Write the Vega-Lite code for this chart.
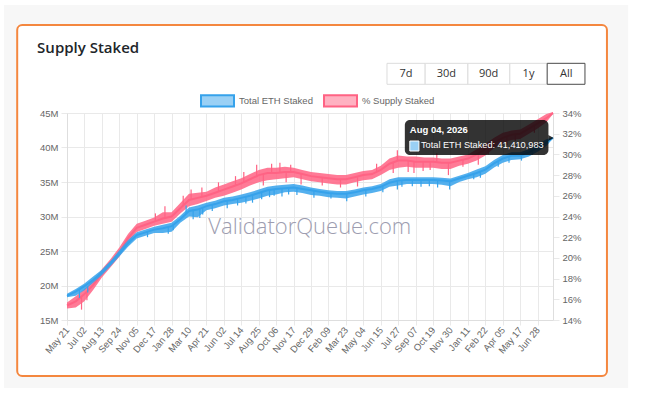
{
  "$schema": "https://vega.github.io/schema/vega-lite/v6.json",
  "width": 486,
  "height": 207,
  "autosize": {"type": "none"},
  "padding": {"left": 67, "top": 113, "right": 100, "bottom": 81},
  "background": "#ffffff",
  "datasets": {
    "series": [
      {"d": "2023-05-21T00:00", "eth": 18.5, "ethLo": 18.3, "ethHi": 18.8, "pct": 15.4, "pctLo": 15.1, "pctHi": 15.7},
      {"d": "2023-06-11T00:00", "eth": 19.1, "ethLo": 18.5, "ethHi": 19.5, "pct": 15.8, "pctLo": 15.2, "pctHi": 16.3},
      {"d": "2023-07-02T00:00", "eth": 19.9, "ethLo": 19.3, "ethHi": 20.3, "pct": 16.5, "pctLo": 15.8, "pctHi": 17.0},
      {"d": "2023-07-23T00:00", "eth": 20.8, "ethLo": 20.4, "ethHi": 21.3, "pct": 17.4, "pctLo": 16.9, "pctHi": 17.8},
      {"d": "2023-08-13T00:00", "eth": 21.9, "ethLo": 21.5, "ethHi": 22.3, "pct": 18.5, "pctLo": 18.1, "pctHi": 18.9},
      {"d": "2023-09-03T00:00", "eth": 23.2, "ethLo": 22.8, "ethHi": 23.6, "pct": 19.5, "pctLo": 19.1, "pctHi": 19.9},
      {"d": "2023-09-24T00:00", "eth": 24.6, "ethLo": 24.2, "ethHi": 25.1, "pct": 20.5, "pctLo": 20.1, "pctHi": 21.0},
      {"d": "2023-10-15T00:00", "eth": 26.1, "ethLo": 25.6, "ethHi": 26.6, "pct": 21.9, "pctLo": 21.4, "pctHi": 22.3},
      {"d": "2023-11-05T00:00", "eth": 27.3, "ethLo": 26.8, "ethHi": 27.7, "pct": 22.9, "pctLo": 22.5, "pctHi": 23.3},
      {"d": "2023-11-26T00:00", "eth": 27.7, "ethLo": 27.2, "ethHi": 28.1, "pct": 23.2, "pctLo": 22.8, "pctHi": 23.6},
      {"d": "2023-12-17T00:00", "eth": 28.1, "ethLo": 27.6, "ethHi": 28.5, "pct": 23.5, "pctLo": 23.1, "pctHi": 23.9},
      {"d": "2024-01-07T00:00", "eth": 28.3, "ethLo": 27.6, "ethHi": 28.8, "pct": 23.8, "pctLo": 23.3, "pctHi": 24.4},
      {"d": "2024-01-28T00:00", "eth": 28.6, "ethLo": 27.8, "ethHi": 29.1, "pct": 24.0, "pctLo": 23.5, "pctHi": 24.4},
      {"d": "2024-02-18T00:00", "eth": 29.6, "ethLo": 29.1, "ethHi": 30.1, "pct": 24.8, "pctLo": 24.3, "pctHi": 25.3},
      {"d": "2024-03-10T00:00", "eth": 30.8, "ethLo": 30.0, "ethHi": 31.3, "pct": 25.6, "pctLo": 25.0, "pctHi": 26.2},
      {"d": "2024-03-31T00:00", "eth": 31.0, "ethLo": 29.9, "ethHi": 31.6, "pct": 25.8, "pctLo": 25.2, "pctHi": 26.3},
      {"d": "2024-04-21T00:00", "eth": 31.5, "ethLo": 30.9, "ethHi": 32.0, "pct": 26.0, "pctLo": 25.5, "pctHi": 26.4},
      {"d": "2024-05-12T00:00", "eth": 31.8, "ethLo": 31.2, "ethHi": 32.3, "pct": 26.3, "pctLo": 25.8, "pctHi": 26.8},
      {"d": "2024-06-02T00:00", "eth": 32.2, "ethLo": 31.6, "ethHi": 32.7, "pct": 26.6, "pctLo": 26.0, "pctHi": 27.1},
      {"d": "2024-06-23T00:00", "eth": 32.4, "ethLo": 31.8, "ethHi": 32.9, "pct": 26.9, "pctLo": 26.3, "pctHi": 27.4},
      {"d": "2024-07-14T00:00", "eth": 32.7, "ethLo": 32.0, "ethHi": 33.2, "pct": 27.2, "pctLo": 26.6, "pctHi": 27.7},
      {"d": "2024-08-04T00:00", "eth": 33.0, "ethLo": 32.3, "ethHi": 33.5, "pct": 27.6, "pctLo": 27.0, "pctHi": 28.1},
      {"d": "2024-08-25T00:00", "eth": 33.4, "ethLo": 32.6, "ethHi": 33.9, "pct": 28.0, "pctLo": 27.3, "pctHi": 28.5},
      {"d": "2024-09-15T00:00", "eth": 33.8, "ethLo": 33.0, "ethHi": 34.3, "pct": 28.2, "pctLo": 27.5, "pctHi": 28.7},
      {"d": "2024-10-06T00:00", "eth": 34.0, "ethLo": 33.2, "ethHi": 34.5, "pct": 28.2, "pctLo": 27.6, "pctHi": 28.7},
      {"d": "2024-10-27T00:00", "eth": 34.1, "ethLo": 33.5, "ethHi": 34.6, "pct": 28.3, "pctLo": 27.7, "pctHi": 28.8},
      {"d": "2024-11-17T00:00", "eth": 34.2, "ethLo": 33.6, "ethHi": 34.7, "pct": 28.3, "pctLo": 27.8, "pctHi": 28.7},
      {"d": "2024-12-08T00:00", "eth": 34.0, "ethLo": 33.4, "ethHi": 34.5, "pct": 28.1, "pctLo": 27.6, "pctHi": 28.5},
      {"d": "2024-12-29T00:00", "eth": 33.8, "ethLo": 33.1, "ethHi": 34.2, "pct": 27.9, "pctLo": 27.4, "pctHi": 28.3},
      {"d": "2025-01-19T00:00", "eth": 33.6, "ethLo": 33.0, "ethHi": 34.0, "pct": 27.8, "pctLo": 27.3, "pctHi": 28.2},
      {"d": "2025-02-09T00:00", "eth": 33.4, "ethLo": 32.8, "ethHi": 33.8, "pct": 27.7, "pctLo": 27.2, "pctHi": 28.1},
      {"d": "2025-03-02T00:00", "eth": 33.3, "ethLo": 32.7, "ethHi": 33.7, "pct": 27.6, "pctLo": 27.1, "pctHi": 28.0},
      {"d": "2025-03-23T00:00", "eth": 33.3, "ethLo": 32.6, "ethHi": 33.7, "pct": 27.6, "pctLo": 27.1, "pctHi": 28.0},
      {"d": "2025-04-13T00:00", "eth": 33.5, "ethLo": 32.9, "ethHi": 33.9, "pct": 27.8, "pctLo": 27.3, "pctHi": 28.2},
      {"d": "2025-05-04T00:00", "eth": 33.8, "ethLo": 33.2, "ethHi": 34.2, "pct": 28.0, "pctLo": 27.5, "pctHi": 28.4},
      {"d": "2025-05-25T00:00", "eth": 34.0, "ethLo": 33.4, "ethHi": 34.4, "pct": 28.1, "pctLo": 27.6, "pctHi": 28.5},
      {"d": "2025-06-15T00:00", "eth": 34.3, "ethLo": 33.7, "ethHi": 34.7, "pct": 28.5, "pctLo": 28.0, "pctHi": 28.9},
      {"d": "2025-07-06T00:00", "eth": 34.9, "ethLo": 34.3, "ethHi": 35.4, "pct": 29.1, "pctLo": 28.5, "pctHi": 29.6},
      {"d": "2025-07-27T00:00", "eth": 35.2, "ethLo": 34.5, "ethHi": 35.7, "pct": 29.4, "pctLo": 28.7, "pctHi": 29.9},
      {"d": "2025-08-17T00:00", "eth": 35.3, "ethLo": 34.7, "ethHi": 35.7, "pct": 29.4, "pctLo": 28.8, "pctHi": 29.8},
      {"d": "2025-09-07T00:00", "eth": 35.3, "ethLo": 34.7, "ethHi": 35.7, "pct": 29.3, "pctLo": 28.7, "pctHi": 29.8},
      {"d": "2025-09-28T00:00", "eth": 35.3, "ethLo": 34.7, "ethHi": 35.7, "pct": 29.3, "pctLo": 28.7, "pctHi": 29.7},
      {"d": "2025-10-19T00:00", "eth": 35.3, "ethLo": 34.7, "ethHi": 35.7, "pct": 29.3, "pctLo": 28.7, "pctHi": 29.7},
      {"d": "2025-11-09T00:00", "eth": 35.2, "ethLo": 34.6, "ethHi": 35.6, "pct": 29.2, "pctLo": 28.6, "pctHi": 29.6},
      {"d": "2025-11-30T00:00", "eth": 35.1, "ethLo": 34.4, "ethHi": 35.5, "pct": 29.2, "pctLo": 28.6, "pctHi": 29.6},
      {"d": "2025-12-21T00:00", "eth": 35.5, "ethLo": 35.0, "ethHi": 35.9, "pct": 29.4, "pctLo": 28.9, "pctHi": 29.8},
      {"d": "2026-01-11T00:00", "eth": 35.9, "ethLo": 35.4, "ethHi": 36.3, "pct": 29.6, "pctLo": 29.1, "pctHi": 30.0},
      {"d": "2026-02-01T00:00", "eth": 36.3, "ethLo": 35.7, "ethHi": 36.8, "pct": 30.0, "pctLo": 29.4, "pctHi": 30.5},
      {"d": "2026-02-22T00:00", "eth": 36.8, "ethLo": 36.2, "ethHi": 37.3, "pct": 30.5, "pctLo": 29.9, "pctHi": 31.0},
      {"d": "2026-03-15T00:00", "eth": 37.7, "ethLo": 37.1, "ethHi": 38.2, "pct": 31.1, "pctLo": 30.6, "pctHi": 31.6},
      {"d": "2026-04-05T00:00", "eth": 38.4, "ethLo": 37.8, "ethHi": 38.9, "pct": 31.6, "pctLo": 31.1, "pctHi": 32.1},
      {"d": "2026-04-26T00:00", "eth": 38.8, "ethLo": 38.2, "ethHi": 39.3, "pct": 31.9, "pctLo": 31.4, "pctHi": 32.3},
      {"d": "2026-05-17T00:00", "eth": 38.8, "ethLo": 38.3, "ethHi": 39.3, "pct": 32.0, "pctLo": 31.5, "pctHi": 32.4},
      {"d": "2026-06-07T00:00", "eth": 39.3, "ethLo": 38.7, "ethHi": 39.8, "pct": 32.5, "pctLo": 32.0, "pctHi": 32.9},
      {"d": "2026-06-28T00:00", "eth": 40.0, "ethLo": 39.4, "ethHi": 40.5, "pct": 33.0, "pctLo": 32.5, "pctHi": 33.4},
      {"d": "2026-07-19T00:00", "eth": 40.7, "ethLo": 40.2, "ethHi": 41.2, "pct": 33.5, "pctLo": 33.1, "pctHi": 33.9},
      {"d": "2026-08-04T00:00", "eth": 41.41, "ethLo": 41.3, "ethHi": 41.5, "pct": 34.0, "pctLo": 33.9, "pctHi": 34.1}
    ],
    "ethSpikes": [
      {"d": "2023-06-20T00:00", "from": 19.4, "to": 18.2},
      {"d": "2023-07-10T00:00", "from": 19.9, "to": 19.0},
      {"d": "2023-12-01T00:00", "from": 27.8, "to": 27.0},
      {"d": "2024-01-20T00:00", "from": 28.5, "to": 27.5},
      {"d": "2024-02-01T00:00", "from": 28.8, "to": 28.0},
      {"d": "2024-03-03T00:00", "from": 30.4, "to": 31.6},
      {"d": "2024-03-20T00:00", "from": 31.0, "to": 29.6},
      {"d": "2024-04-05T00:00", "from": 31.2, "to": 29.8},
      {"d": "2024-04-12T00:00", "from": 31.3, "to": 30.3},
      {"d": "2024-05-05T00:00", "from": 31.7, "to": 30.8},
      {"d": "2024-06-10T00:00", "from": 32.3, "to": 31.2},
      {"d": "2024-07-05T00:00", "from": 32.6, "to": 31.6},
      {"d": "2024-07-25T00:00", "from": 32.9, "to": 31.9},
      {"d": "2024-08-10T00:00", "from": 33.0, "to": 32.0},
      {"d": "2024-09-01T00:00", "from": 33.5, "to": 32.5},
      {"d": "2024-09-20T00:00", "from": 33.8, "to": 32.8},
      {"d": "2024-10-01T00:00", "from": 33.9, "to": 33.0},
      {"d": "2024-10-20T00:00", "from": 34.0, "to": 32.9},
      {"d": "2024-11-05T00:00", "from": 34.1, "to": 33.2},
      {"d": "2024-11-25T00:00", "from": 34.1, "to": 33.1},
      {"d": "2025-01-05T00:00", "from": 33.7, "to": 32.7},
      {"d": "2025-02-15T00:00", "from": 33.4, "to": 32.6},
      {"d": "2025-03-25T00:00", "from": 33.3, "to": 32.2},
      {"d": "2025-05-10T00:00", "from": 33.8, "to": 32.9},
      {"d": "2025-06-20T00:00", "from": 34.5, "to": 33.5},
      {"d": "2025-07-25T00:00", "from": 35.2, "to": 33.9},
      {"d": "2025-08-05T00:00", "from": 35.2, "to": 34.3},
      {"d": "2025-08-30T00:00", "from": 35.3, "to": 34.4},
      {"d": "2025-09-20T00:00", "from": 35.3, "to": 34.3},
      {"d": "2025-10-10T00:00", "from": 35.3, "to": 34.4},
      {"d": "2025-10-30T00:00", "from": 35.2, "to": 34.2},
      {"d": "2025-11-28T00:00", "from": 35.1, "to": 33.9},
      {"d": "2026-01-25T00:00", "from": 36.2, "to": 35.4},
      {"d": "2026-02-10T00:00", "from": 36.5, "to": 35.6},
      {"d": "2026-03-25T00:00", "from": 38.0, "to": 37.2},
      {"d": "2026-04-20T00:00", "from": 38.7, "to": 37.8},
      {"d": "2026-05-20T00:00", "from": 38.9, "to": 38.1},
      {"d": "2026-06-15T00:00", "from": 39.6, "to": 38.9}
    ],
    "pctSpikes": [
      {"d": "2023-06-25T00:00", "from": 16.2, "to": 15.0},
      {"d": "2023-07-08T00:00", "from": 16.8, "to": 15.9},
      {"d": "2023-12-20T00:00", "from": 23.5, "to": 24.3},
      {"d": "2024-01-12T00:00", "from": 23.8, "to": 25.0},
      {"d": "2024-02-25T00:00", "from": 25.0, "to": 26.0},
      {"d": "2024-03-15T00:00", "from": 25.6, "to": 26.6},
      {"d": "2024-04-10T00:00", "from": 25.9, "to": 26.8},
      {"d": "2024-05-20T00:00", "from": 26.4, "to": 27.3},
      {"d": "2024-06-30T00:00", "from": 27.0, "to": 27.9},
      {"d": "2024-07-20T00:00", "from": 27.3, "to": 28.3},
      {"d": "2024-08-20T00:00", "from": 27.8, "to": 29.0},
      {"d": "2024-09-05T00:00", "from": 28.1, "to": 27.0},
      {"d": "2024-09-25T00:00", "from": 28.2, "to": 29.1},
      {"d": "2024-10-15T00:00", "from": 28.2, "to": 29.2},
      {"d": "2024-10-30T00:00", "from": 28.3, "to": 27.3},
      {"d": "2024-11-10T00:00", "from": 28.3, "to": 29.0},
      {"d": "2024-12-05T00:00", "from": 28.1, "to": 27.1},
      {"d": "2025-01-25T00:00", "from": 27.8, "to": 27.0},
      {"d": "2025-03-10T00:00", "from": 27.6, "to": 26.8},
      {"d": "2025-04-20T00:00", "from": 27.8, "to": 26.9},
      {"d": "2025-06-05T00:00", "from": 28.3, "to": 29.1},
      {"d": "2025-07-15T00:00", "from": 29.2, "to": 28.2},
      {"d": "2025-07-25T00:00", "from": 29.4, "to": 30.4},
      {"d": "2025-08-20T00:00", "from": 29.4, "to": 28.3},
      {"d": "2025-09-03T00:00", "from": 29.3, "to": 28.2},
      {"d": "2025-09-25T00:00", "from": 29.3, "to": 28.4},
      {"d": "2025-10-12T00:00", "from": 29.3, "to": 28.5},
      {"d": "2025-10-28T00:00", "from": 29.3, "to": 30.1},
      {"d": "2025-11-25T00:00", "from": 29.2, "to": 28.0},
      {"d": "2025-12-30T00:00", "from": 29.5, "to": 28.8},
      {"d": "2026-02-05T00:00", "from": 30.0, "to": 29.0},
      {"d": "2026-03-01T00:00", "from": 30.8, "to": 30.0},
      {"d": "2026-04-15T00:00", "from": 31.7, "to": 30.9},
      {"d": "2026-05-05T00:00", "from": 32.0, "to": 31.3},
      {"d": "2026-06-20T00:00", "from": 32.8, "to": 32.1}
    ],
    "strips": [
      {"d": "2022-12-20T00:00", "d2": "2027-02-01T00:00", "v": 57.75, "v2": 60.65},
      {"d": "2022-12-20T00:00", "d2": "2027-02-01T00:00", "v": 5.14, "v2": 6.88},
      {"d": "2022-12-20T00:00", "d2": "2023-01-21T00:00", "v": 6.88, "v2": 57.75},
      {"d": "2026-12-12T00:00", "d2": "2027-02-01T00:00", "v": 6.88, "v2": 57.75}
    ],
    "card": [
      {"d": "2023-01-21T00:00", "d2": "2026-12-12T00:00", "v": 6.88, "v2": 57.75}
    ],
    "heading": [
      {"d": "2023-03-10T00:00", "v": 53.7, "text": "Supply Staked"}
    ],
    "buttons": [
      {"label": "7d", "d": "2025-06-30T00:00", "d2": "2025-09-30T00:00", "v": 49.16, "v2": 52.2, "active": false},
      {"label": "30d", "d": "2025-09-30T00:00", "d2": "2026-01-11T00:00", "v": 49.16, "v2": 52.2, "active": false},
      {"label": "90d", "d": "2026-01-11T00:00", "d2": "2026-04-22T00:00", "v": 49.16, "v2": 52.2, "active": false},
      {"label": "1y", "d": "2026-04-22T00:00", "d2": "2026-07-21T00:00", "v": 49.16, "v2": 52.2, "active": false},
      {"label": "All", "d": "2026-07-21T00:00", "d2": "2026-10-20T00:00", "v": 49.16, "v2": 52.2, "active": true}
    ],
    "buttonLabels": [
      {"label": "7d", "d": "2025-08-15T00:00", "v": 50.68},
      {"label": "30d", "d": "2025-11-20T00:00", "v": 50.68},
      {"label": "90d", "d": "2026-03-02T00:00", "v": 50.68},
      {"label": "1y", "d": "2026-06-06T00:00", "v": 50.68},
      {"label": "All", "d": "2026-09-05T00:00", "v": 50.68}
    ],
    "watermark": [
      {"d": "2024-12-26T00:00", "v": 28.48, "text": "ValidatorQueue.com"}
    ],
    "tipBox": [
      {"d": "2025-08-12T00:00", "d2": "2026-07-24T00:00", "v": 38.91, "v2": 43.99}
    ],
    "tipCaret": [
      {"d": "2026-07-30T00:00", "v": 41.38}
    ],
    "tipSwatch": [
      {"d": "2025-08-24T00:00", "d2": "2025-09-15T00:00", "v": 39.49, "v2": 40.94}
    ],
    "tipText": [
      {"role": "title", "d": "2025-08-24T00:00", "v": 42.1, "text": "Aug 04, 2026"},
      {"role": "body", "d": "2025-09-20T00:00", "v": 39.88, "text": "Total ETH Staked: 41,410,983"}
    ]
  },
  "encoding": {
    "x": {
      "field": "d",
      "type": "temporal",
      "scale": {
        "domain": [{"year": 2023, "month": 5, "date": 21}, {"year": 2026, "month": 8, "date": 4}],
        "nice": false
      },
      "axis": {
        "title": null,
        "values": [
          {"year": 2023, "month": 5, "date": 21}, {"year": 2023, "month": 7, "date": 2},
          {"year": 2023, "month": 8, "date": 13}, {"year": 2023, "month": 9, "date": 24},
          {"year": 2023, "month": 11, "date": 5}, {"year": 2023, "month": 12, "date": 17},
          {"year": 2024, "month": 1, "date": 28}, {"year": 2024, "month": 3, "date": 10},
          {"year": 2024, "month": 4, "date": 21}, {"year": 2024, "month": 6, "date": 2},
          {"year": 2024, "month": 7, "date": 14}, {"year": 2024, "month": 8, "date": 25},
          {"year": 2024, "month": 10, "date": 6}, {"year": 2024, "month": 11, "date": 17},
          {"year": 2024, "month": 12, "date": 29}, {"year": 2025, "month": 2, "date": 9},
          {"year": 2025, "month": 3, "date": 23}, {"year": 2025, "month": 5, "date": 4},
          {"year": 2025, "month": 6, "date": 15}, {"year": 2025, "month": 7, "date": 27},
          {"year": 2025, "month": 9, "date": 7}, {"year": 2025, "month": 10, "date": 19},
          {"year": 2025, "month": 11, "date": 30}, {"year": 2026, "month": 1, "date": 11},
          {"year": 2026, "month": 2, "date": 22}, {"year": 2026, "month": 4, "date": 5},
          {"year": 2026, "month": 5, "date": 17}, {"year": 2026, "month": 6, "date": 28}
        ],
        "format": "%b %d",
        "labelAngle": -50,
        "labelOverlap": false,
        "labelFlush": false,
        "labelFont": "Liberation Sans",
        "labelFontSize": 9.5,
        "labelColor": "#666666",
        "labelPadding": 3,
        "grid": true,
        "gridColor": "#e9e9e9",
        "domainColor": "#dedede",
        "tickColor": "#e9e9e9",
        "tickSize": 5
      }
    }
  },
  "layer": [
    {
      "data": {"name": "strips"},
      "mark": {"type": "rect", "color": "#f7f7f7", "clip": false},
      "encoding": {
        "x2": {"field": "d2"},
        "y": {"field": "v", "type": "quantitative", "scale": {"domain": [15, 45], "nice": false, "zero": false}, "axis": null},
        "y2": {"field": "v2"}
      }
    },
    {
      "data": {"name": "card"},
      "mark": {"type": "rect", "fillOpacity": 0, "stroke": "#f4873f", "strokeWidth": 2, "cornerRadius": 5, "clip": false},
      "encoding": {
        "x2": {"field": "d2"},
        "y": {"field": "v", "type": "quantitative", "scale": {"domain": [15, 45], "nice": false, "zero": false}, "axis": null},
        "y2": {"field": "v2"}
      }
    },
    {
      "data": {"name": "heading"},
      "mark": {"type": "text", "font": "Open Sans", "fontSize": 15, "fontWeight": 600, "color": "#212529", "align": "left", "baseline": "alphabetic", "clip": false},
      "encoding": {
        "y": {"field": "v", "type": "quantitative", "scale": {"domain": [15, 45], "nice": false, "zero": false}, "axis": null},
        "text": {"field": "text"}
      }
    },
    {
      "data": {"name": "buttons"},
      "mark": {"type": "rect", "fill": "#ffffff", "strokeWidth": 1, "clip": false},
      "encoding": {
        "x2": {"field": "d2"},
        "y": {"field": "v", "type": "quantitative", "scale": {"domain": [15, 45], "nice": false, "zero": false}, "axis": null},
        "y2": {"field": "v2"},
        "stroke": {"condition": {"test": "datum.active", "value": "#4a4a4a"}, "value": "#dcdcdc"}
      }
    },
    {
      "data": {"name": "buttonLabels"},
      "mark": {"type": "text", "font": "Open Sans", "fontSize": 11, "color": "#333333", "baseline": "middle", "clip": false},
      "encoding": {
        "y": {"field": "v", "type": "quantitative", "scale": {"domain": [15, 45], "nice": false, "zero": false}, "axis": null},
        "text": {"field": "label"}
      }
    },
    {
      "data": {"name": "watermark"},
      "mark": {"type": "text", "font": "Open Sans", "fontSize": 22, "fontWeight": 300, "color": "#9d9db0", "baseline": "middle"},
      "encoding": {
        "y": {"field": "v", "type": "quantitative", "scale": {"domain": [15, 45], "nice": false, "zero": false}, "axis": null},
        "text": {"field": "text"}
      }
    },
    {
      "data": {"name": "series"},
      "mark": {"type": "area", "color": "#ff6384", "opacity": 0.85},
      "encoding": {
        "y": {"field": "pctLo", "type": "quantitative", "scale": {"domain": [14, 34], "nice": false, "zero": false}, "axis": null},
        "y2": {"field": "pctHi"}
      }
    },
    {
      "data": {"name": "pctSpikes"},
      "mark": {"type": "rule", "color": "#ff6384", "strokeWidth": 1.2},
      "encoding": {
        "y": {"field": "from", "type": "quantitative", "scale": {"domain": [14, 34], "nice": false, "zero": false}, "axis": null},
        "y2": {"field": "to"}
      }
    },
    {
      "data": {"name": "series"},
      "mark": {"type": "line", "strokeWidth": 2},
      "encoding": {
        "y": {
          "field": "pct",
          "type": "quantitative",
          "scale": {"domain": [14, 34], "nice": false, "zero": false},
          "axis": {
            "orient": "right",
            "title": null,
            "values": [14, 16, 18, 20, 22, 24, 26, 28, 30, 32, 34],
            "labelExpr": "datum.value + '%'",
            "grid": false,
            "labelFont": "Liberation Sans",
            "labelFontSize": 9.5,
            "labelColor": "#666666",
            "labelPadding": 3,
            "domainColor": "#dedede",
            "tickColor": "#e9e9e9",
            "tickSize": 6
          }
        },
        "color": {
          "datum": "% Supply Staked",
          "scale": {"domain": ["Total ETH Staked", "% Supply Staked"], "range": ["#36a2eb", "#ff6384"]},
          "legend": {
            "orient": "none",
            "legendX": 133,
            "legendY": -30,
            "direction": "horizontal",
            "title": null,
            "symbolType": "M-1,-0.34H1V0.34H-1Z",
            "symbolSize": 1089,
            "symbolStrokeWidth": 2,
            "labelFont": "Liberation Sans",
            "labelFontSize": 9.5,
            "labelColor": "#666666",
            "labelOffset": 4,
            "columnPadding": 7,
            "encode": {
              "symbols": {
                "update": {
                  "fill": {"scale": "color", "field": "value"},
                  "fillOpacity": {"value": 0.5},
                  "stroke": {"scale": "color", "field": "value"}
                }
              }
            }
          }
        }
      }
    },
    {
      "data": {"name": "series"},
      "mark": {"type": "area", "color": "#36a2eb", "opacity": 0.85},
      "encoding": {
        "y": {"field": "ethLo", "type": "quantitative", "scale": {"domain": [15, 45], "nice": false, "zero": false}, "axis": null},
        "y2": {"field": "ethHi"}
      }
    },
    {
      "data": {"name": "ethSpikes"},
      "mark": {"type": "rule", "color": "#36a2eb", "strokeWidth": 1.2},
      "encoding": {
        "y": {"field": "from", "type": "quantitative", "scale": {"domain": [15, 45], "nice": false, "zero": false}, "axis": null},
        "y2": {"field": "to"}
      }
    },
    {
      "data": {"name": "series"},
      "mark": {"type": "line", "strokeWidth": 2},
      "encoding": {
        "y": {
          "field": "eth",
          "type": "quantitative",
          "scale": {"domain": [15, 45], "nice": false, "zero": false},
          "axis": {
            "orient": "left",
            "title": null,
            "values": [15, 20, 25, 30, 35, 40, 45],
            "labelExpr": "datum.value + 'M'",
            "grid": true,
            "gridColor": "#e9e9e9",
            "labelFont": "Liberation Sans",
            "labelFontSize": 9.5,
            "labelColor": "#666666",
            "labelPadding": 3,
            "domainColor": "#dedede",
            "tickColor": "#e9e9e9",
            "tickSize": 6
          }
        },
        "color": {
          "datum": "Total ETH Staked",
          "scale": {"domain": ["Total ETH Staked", "% Supply Staked"], "range": ["#36a2eb", "#ff6384"]},
          "legend": {
            "orient": "none",
            "legendX": 133,
            "legendY": -30,
            "direction": "horizontal",
            "title": null,
            "symbolType": "M-1,-0.34H1V0.34H-1Z",
            "symbolSize": 1089,
            "symbolStrokeWidth": 2,
            "labelFont": "Liberation Sans",
            "labelFontSize": 9.5,
            "labelColor": "#666666",
            "labelOffset": 4,
            "columnPadding": 7,
            "encode": {
              "symbols": {
                "update": {
                  "fill": {"scale": "color", "field": "value"},
                  "fillOpacity": {"value": 0.5},
                  "stroke": {"scale": "color", "field": "value"}
                }
              }
            }
          }
        }
      }
    },
    {
      "data": {"name": "tipBox"},
      "mark": {"type": "rect", "color": "#000000", "opacity": 0.8, "cornerRadius": 5, "clip": false},
      "encoding": {
        "x2": {"field": "d2"},
        "y": {"field": "v", "type": "quantitative", "scale": {"domain": [15, 45], "nice": false, "zero": false}, "axis": null},
        "y2": {"field": "v2"}
      }
    },
    {
      "data": {"name": "tipCaret"},
      "mark": {"type": "point", "shape": "triangle-right", "filled": true, "color": "#000000", "opacity": 0.8, "size": 36, "clip": false},
      "encoding": {
        "y": {"field": "v", "type": "quantitative", "scale": {"domain": [15, 45], "nice": false, "zero": false}, "axis": null}
      }
    },
    {
      "data": {"name": "tipSwatch"},
      "mark": {"type": "rect", "fill": "#9ad0f5", "stroke": "#ffffff", "strokeWidth": 1, "clip": false},
      "encoding": {
        "x2": {"field": "d2"},
        "y": {"field": "v", "type": "quantitative", "scale": {"domain": [15, 45], "nice": false, "zero": false}, "axis": null},
        "y2": {"field": "v2"}
      }
    },
    {
      "data": {"name": "tipText"},
      "transform": [{"filter": "datum.role == 'title'"}],
      "mark": {"type": "text", "font": "Liberation Sans", "fontSize": 9.5, "fontWeight": "bold", "color": "#ffffff", "align": "left", "baseline": "alphabetic", "clip": false},
      "encoding": {
        "y": {"field": "v", "type": "quantitative", "scale": {"domain": [15, 45], "nice": false, "zero": false}, "axis": null},
        "text": {"field": "text"}
      }
    },
    {
      "data": {"name": "tipText"},
      "transform": [{"filter": "datum.role == 'body'"}],
      "mark": {"type": "text", "font": "Liberation Sans", "fontSize": 9.2, "color": "#ffffff", "align": "left", "baseline": "alphabetic", "clip": false},
      "encoding": {
        "y": {"field": "v", "type": "quantitative", "scale": {"domain": [15, 45], "nice": false, "zero": false}, "axis": null},
        "text": {"field": "text"}
      }
    }
  ],
  "resolve": {"scale": {"y": "independent"}},
  "config": {
    "view": {"stroke": null},
    "font": "Liberation Sans"
  }
}
